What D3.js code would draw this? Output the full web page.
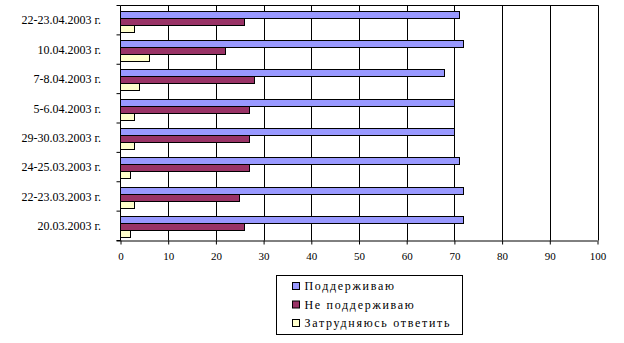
<!DOCTYPE html>
<html>
<head>
<meta charset="utf-8">
<script src="https://cdn.jsdelivr.net/npm/d3@7"></script>
<style>
  html, body { margin: 0; padding: 0; background: #fff; }
  svg { display: block; }
  svg text { font-family: "Liberation Serif", "DejaVu Serif", serif; fill: #000; }
</style>
</head>
<body>
<svg id="chart" width="624" height="343"></svg>
<script>
// Poll dates, top to bottom
const categories = [
  "22-23.04.2003 г.", "10.04.2003 г.", "7-8.04.2003 г.", "5-6.04.2003 г.",
  "29-30.03.2003 г.", "24-25.03.2003 г.", "22-23.03.2003 г.", "20.03.2003 г."
];
const seriesNames = ["Поддерживаю", "Не поддерживаю", "Затрудняюсь ответить"];
const seriesColors = ["#9999FF", "#993366", "#FFFFCC"];
const support    = [71, 72, 68, 70, 70, 71, 72, 72];
const oppose     = [26, 22, 28, 27, 27, 27, 25, 26];
const undecided  = [3, 6, 4, 3, 3, 2, 3, 2];
const xTicks = [0, 10, 20, 30, 40, 50, 60, 70, 80, 90, 100];

const seriesValues = [support, oppose, undecided];
const serif = '"Liberation Serif", "DejaVu Serif", serif';

const svg = d3.select("#chart");
const plot = { left: 120.5, right: 597.5, top: 5.5, bottom: 240.5 };

const x = d3.scaleLinear().domain([0, 100]).range([plot.left, plot.right]);
const y = d3.scaleBand().domain(categories).range([plot.top, plot.bottom]).padding(0);
const ySub = d3.scaleBand().domain(d3.range(seriesNames.length))
  .range([5.2, y.bandwidth() - 4.2]).padding(0);

// vertical gridlines
svg.append("g").selectAll("line").data(xTicks.slice(1)).join("line")
  .attr("x1", d => Math.round(x(d)) + 0.5).attr("x2", d => Math.round(x(d)) + 0.5)
  .attr("y1", plot.top).attr("y2", plot.bottom)
  .attr("stroke", "#000").attr("stroke-width", 1);

// top border
svg.append("line")
  .attr("x1", plot.left).attr("x2", Math.round(x(100)) + 0.5)
  .attr("y1", plot.top).attr("y2", plot.top)
  .attr("stroke", "#000");

// bars
const groups = svg.append("g").selectAll("g").data(categories).join("g")
  .attr("transform", d => `translate(0,${y(d)})`);
groups.selectAll("rect")
  .data((c, i) => seriesValues.map((vals, s) => ({ s, v: vals[i] })))
  .join("rect")
  .attr("x", x(0))
  .attr("y", d => Math.round(ySub(d.s)) + 0.5)
  .attr("width", d => x(d.v) - x(0))
  .attr("height", Math.round(ySub.bandwidth()))
  .attr("fill", d => seriesColors[d.s])
  .attr("stroke", "#000").attr("stroke-width", 1)
  .attr("shape-rendering", "crispEdges");

// x axis
const xAxis = d3.axisBottom(x).tickValues(xTicks).tickSize(4).tickSizeOuter(0).tickPadding(8);
const gx = svg.append("g").attr("transform", `translate(0,${plot.bottom})`).call(xAxis)
  .attr("font-family", serif).attr("font-size", 11);
gx.select(".domain").attr("d", `M${plot.left - 4},0.5H${plot.right}`).attr("stroke", "#000");
gx.selectAll(".tick line").attr("stroke", "#000");
gx.selectAll(".tick text").style("font-family", serif).style("font-size", "11px");

// y axis: ticks on band boundaries, labels centered on bands
const yEdges = categories.map(c => y(c)).concat([plot.bottom]);
svg.append("line")
  .attr("x1", plot.left).attr("x2", plot.left)
  .attr("y1", plot.top).attr("y2", plot.bottom).attr("stroke", "#000");
svg.append("g").selectAll("line").data(yEdges).join("line")
  .attr("x1", plot.left - 4).attr("x2", plot.left)
  .attr("y1", d => d).attr("y2", d => d).attr("stroke", "#000");
svg.append("g").selectAll("text").data(categories).join("text")
  .attr("x", 101).attr("y", d => y(d) + y.bandwidth() / 2)
  .attr("text-anchor", "end").attr("dy", "0.35em")
  .style("font-family", serif).style("font-size", "12px")
  .text(d => d);

// legend
const lg = svg.append("g");
lg.append("rect").attr("x", 276.5).attr("y", 275.5).attr("width", 186).attr("height", 59)
  .attr("fill", "#fff").attr("stroke", "#000");
const items = lg.selectAll("g.item").data(seriesNames).join("g").attr("class", "item")
  .attr("transform", (d, i) => `translate(292,${286 + i * 18.5})`);
items.append("rect").attr("x", 0.5).attr("y", -3.5).attr("width", 7).attr("height", 7)
  .attr("fill", (d, i) => seriesColors[i]).attr("stroke", "#000");
items.append("text").attr("x", 12.5).attr("y", 0).attr("dy", "0.35em")
  .style("font-family", serif).style("font-size", "12px").style("letter-spacing", "1.7px")
  .text(d => d);
</script>
</body>
</html>
